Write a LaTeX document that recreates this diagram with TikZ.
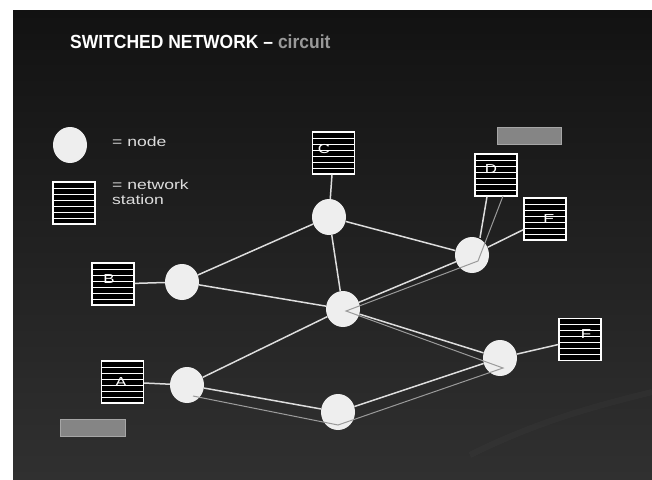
\documentclass[tikz,border=0pt]{standalone}
\usepackage{fontspec}
\setmainfont{Liberation Sans}
\newfontfamily\widefont[FakeStretch=1.3]{Liberation Sans}
\newfontfamily\narrowfont[FakeStretch=0.92]{Liberation Sans}
\usetikzlibrary{shapes.geometric,calc}
\definecolor{bgtop}{HTML}{121212}
\definecolor{bgbot}{HTML}{303030}
\definecolor{edgecol}{HTML}{DDDDDD}
\definecolor{circcol}{HTML}{9A9A9A}
\definecolor{nodecol}{HTML}{EEEEEE}
\definecolor{barcol}{HTML}{858585}
\tikzset{
  netnode/.style={ellipse, fill=nodecol, minimum width=34pt, minimum height=36pt, inner sep=0pt},
  station/.style={rectangle, draw=white, line width=1.3pt, fill=black, minimum width=42pt, minimum height=42pt, inner sep=0pt,
    path picture={
      \foreach \k in {1,...,6}{
        \draw[white, line width=0.9pt] ($(path picture bounding box.south west)!\k/7!(path picture bounding box.north west)$) -- ($(path picture bounding box.south east)!\k/7!(path picture bounding box.north east)$);
      }
    }},
  stlabel/.style={text=white, font=\widefont\fontsize{13}{13}\selectfont, inner sep=0pt},
  link/.style={draw=edgecol, line width=1.5pt},
  circuit/.style={draw=circcol, line width=1pt},
  bar/.style={fill=barcol, draw=gray!70, line width=0.6pt},
  legtext/.style={text=edgecol, font=\widefont\fontsize{13.5}{15}\selectfont, inner sep=0pt, anchor=north west, align=left},
}
\begin{document}
\begin{tikzpicture}[x=1pt,y=-1pt]
\useasboundingbox (0,0) rectangle (652,479);
\fill[white] (0,0) rectangle (652,479);
\shade[top color=bgtop, bottom color=bgbot] (13,10) rectangle (652,479);
% faint swoosh
\draw[white, opacity=0.025, line width=6pt] (470,455) .. controls (540,420) and (600,405) .. (652,392);

% title
\node[anchor=base west, inner sep=0pt, font=\narrowfont\fontsize{19}{19}\selectfont\bfseries] (title) at (70,48)
  {\textcolor{white}{SWITCHED NETWORK –} \textcolor{gray!80}{circuit}};

% bars
\node[bar, minimum width=64pt, minimum height=17pt, inner sep=0pt] (bar1) at (529.5,135.5) {};
\node[bar, minimum width=65pt, minimum height=17pt, inner sep=0pt] (bar2) at (92.5,428) {};

% legend
\node[netnode] (legnode) at (70,145) {};
\node[legtext] (legnodetxt) at (112,137) {= node};
\node[station] (legst) at (74,203) {};
\node[legtext] (legsttxt) at (112,180) {= network\\station};

% network nodes
\node[netnode] (Cn) at (329,217) {};
\node[netnode] (Bn) at (182,282) {};
\node[netnode] (M) at (343,309) {};
\node[netnode] (De) at (472,255) {};
\node[netnode] (An) at (187,385) {};
\node[netnode] (Bo) at (338,412) {};
\node[netnode] (Fn) at (500,358) {};

% stations
\node[station] (C) at (333.5,153) {};
\node[station] (D) at (496,175) {};
\node[station] (E) at (545,219) {};
\node[station] (B) at (113,284) {};
\node[station] (A) at (122.5,382) {};
\node[station] (F) at (580,339.5) {};
\node[stlabel] (Cl) at (324,149) {C};
\node[stlabel] (Dl) at (491,169) {D};
\node[stlabel] (El) at (549,219) {E};
\node[stlabel] (Bl) at (109,279) {B};
\node[stlabel] (Al) at (121,382) {A};
\node[stlabel] (Fl) at (586,334) {F};

% links
\draw[link] (C) -- (Cn);
\draw[link] (B) -- (Bn);
\draw[link] (A) -- (An);
\draw[link] (F) -- (Fn);
\draw[link] (E) -- (De);
\draw[link] ($(D.south)+(-9,0)$) -- ($(De.north)+(8,1)$);
\draw[link] (Bn) -- (Cn);
\draw[link] (Bn) -- (M);
\draw[link] (Cn) -- (M);
\draw[link] (Cn) -- (De);
\draw[link] (M) -- (De);
\draw[link] (M) -- (An);
\draw[link] (M) -- (Fn);
\draw[link] (An) -- (Bo);
\draw[link] (Bo) -- (Fn);

% circuit path
\coordinate (p1) at (193,396);
\coordinate (p2) at (338,425);
\coordinate (p3) at (503,368);
\coordinate (p4) at (346,311);
\coordinate (p5) at (478,261);
\coordinate (p6) at (503,196);
\draw[circuit] (p1) -- (p2) -- (p3) -- (p4) -- (p5) -- (p6);
\end{tikzpicture}
\end{document}
